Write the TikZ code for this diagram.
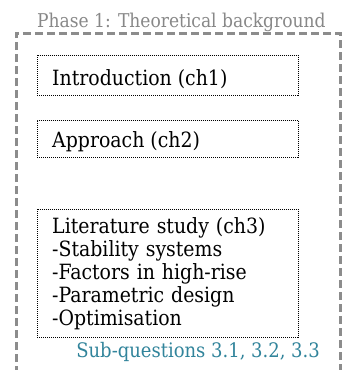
\documentclass[tikz,border=0pt]{standalone}
\usepackage{fontspec}
\setmainfont{DejaVu Serif Condensed}
\definecolor{phasegray}{HTML}{8C8C8C}
\definecolor{titlegray}{HTML}{888888}
\definecolor{subteal}{HTML}{31849B}
\begin{document}
\begin{tikzpicture}[x=1pt,y=-1pt,
  frame/.style={draw=phasegray, line width=3pt, dash pattern=on 8pt off 4pt},
  chapbox/.style={draw=black, line width=0.9pt, dash pattern=on 1pt off 1pt,
    rectangle, inner sep=0pt, anchor=north west},
  txt/.style={inner sep=0pt, anchor=base west, font=\fontsize{21}{23}\selectfont},
]
\useasboundingbox (0,0) rectangle (342,370);
\clip (0,0) rectangle (342,370);
\fill[white] (0,0) rectangle (342,370);

% phase frame, open at the bottom
\coordinate (fbl) at (16,374);
\coordinate (ftl) at (16,33);
\coordinate (ftr) at (340,33);
\coordinate (fbr) at (340,374);
\draw[frame] (fbl) -- (ftl) -- (ftr) -- (fbr);
\node[txt, text=titlegray, anchor=base west, font=\fontsize{19}{21}\selectfont]
  (title) at (37,27) {Phase 1: Theoretical background};

% chapter boxes
\node[chapbox, minimum width=261pt, minimum height=40pt] (b1) at (37,55) {};
\node[txt] (intro) at (52,85) {Introduction (ch1)};

\node[chapbox, minimum width=261pt, minimum height=37pt] (b2) at (37,120) {};
\node[txt] (appr) at (52,147) {Approach (ch2)};

\node[chapbox, minimum width=261pt, minimum height=128pt] (b3) at (37,209) {};
\node[txt, text width=240pt, align=left] (lit) at (52,233)
  {Literature study (ch3)\\-Stability systems\\-Factors in high-rise\\-Parametric design\\-Optimisation};

\node[txt, text=subteal, anchor=base east, font=\fontsize{20}{22}\selectfont]
  (subq) at (320,357) {Sub-questions 3.1, 3.2, 3.3};
\end{tikzpicture}
\end{document}
